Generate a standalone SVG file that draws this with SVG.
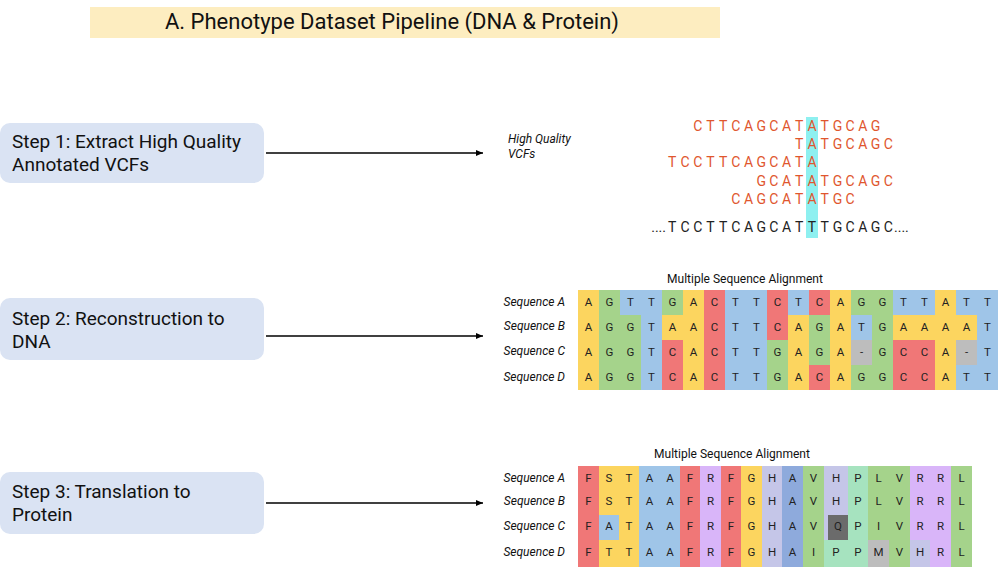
<svg xmlns="http://www.w3.org/2000/svg" width="1000" height="567" viewBox="0 0 1000 567">
<style>
text{font-family:Roboto,"Liberation Sans",sans-serif}
.step{fill:#dae3f3}
.st{font-size:19px;fill:#111}
.lab{font-size:12px;font-style:italic;fill:#111}
.msa{font-size:12px;fill:#111}
.c{font-size:11.5px;fill:#222;text-anchor:middle}
.rd{font-size:14px;fill:#e0562e;text-anchor:middle}
.rf{font-size:14px;fill:#222;text-anchor:middle}
.A{fill:#fcd55f}.G{fill:#a5d38b}.T{fill:#9fc5e8}.C{fill:#f07777}.X{fill:#bdbdbd}
.pR{fill:#f07777}.pY{fill:#fcd55f}.pB{fill:#9fc5e8}.pD{fill:#8eaadc}.pP{fill:#d9b5f9}.pH{fill:#c5c6e8}.pG{fill:#a5d38b}.pL{fill:#a6e3bf}.pM{fill:#bdbdbd}.pQ{fill:#6b6b6b}
</style>
<defs><marker id="ah" markerWidth="8" markerHeight="8" refX="7" refY="4" orient="auto" markerUnits="userSpaceOnUse"><path d="M0,1 L7,4 L0,7 Z" fill="#000"/></marker></defs>
<g id="title"><rect x="90" y="7" width="630" height="31" fill="#fdedc0"/><text x="392" y="29" font-size="22" text-anchor="middle" fill="#111">A. Phenotype Dataset Pipeline (DNA &amp; Protein)</text></g>
<g id="step1"><rect class="step" x="0" y="123" width="264" height="60" rx="10"/><text class="st" x="12" y="148">Step 1: Extract High Quality</text><text class="st" x="12" y="171">Annotated VCFs</text></g>
<g id="step2"><rect class="step" x="0" y="298" width="264" height="62" rx="10"/><text class="st" x="12" y="325">Step 2: Reconstruction to</text><text class="st" x="12" y="348">DNA</text></g>
<g id="step3"><rect class="step" x="0" y="472" width="264" height="62" rx="10"/><text class="st" x="12" y="498">Step 3: Translation to</text><text class="st" x="12" y="521">Protein</text></g>
<g id="connectors" stroke="#000" stroke-width="1.5" marker-end="url(#ah)">
<line x1="266" y1="153" x2="483" y2="153"/><line x1="266" y1="336" x2="483" y2="336"/><line x1="266" y1="503" x2="483" y2="503"/>
</g>
<g id="vcf">
<text class="lab" x="508" y="143">High Quality</text><text class="lab" x="508" y="158">VCFs</text>
<rect x="806" y="117" width="12" height="121" fill="#8ef0f0"/>
<g transform="translate(2,0)">
<text class="rd" y="131" x="695.7 708.4 721.1 733.8 746.5 759.2 771.9 784.6 797.3 810 822.7 835.4 848.1 860.8 873.5">CTTCAGCATATGCAG</text>
<text class="rd" y="149" x="797.3 810 822.7 835.4 848.1 860.8 873.5 886.2">TATGCAGC</text>
<text class="rd" y="167" x="670.3 683 695.7 708.4 721.1 733.8 746.5 759.2 771.9 784.6 797.3 810">TCCTTCAGCATA</text>
<text class="rd" y="186" x="759.2 771.9 784.6 797.3 810 822.7 835.4 848.1 860.8 873.5 886.2">GCATATGCAGC</text>
<text class="rd" y="204" x="733.8 746.5 759.2 771.9 784.6 797.3 810 822.7 835.4 848.1">CAGCATATGC</text>
<text class="rf" y="232" x="670.3 683 695.7 708.4 721.1 733.8 746.5 759.2 771.9 784.6 797.3 810 822.7 835.4 848.1 860.8 873.5 886.2">TCCTTCAGCATTTGCAGC</text>
<text x="664" y="232" font-size="14" fill="#222" text-anchor="end">....</text>
<text x="892" y="232" font-size="14" fill="#222">....</text>
</g>
</g>
<g id="dna">
<text class="msa" x="745" y="283" text-anchor="middle">Multiple Sequence Alignment</text>
<text class="lab" x="565" y="306" text-anchor="end">Sequence A</text>
<text class="lab" x="565" y="330" text-anchor="end">Sequence B</text>
<text class="lab" x="565" y="355" text-anchor="end">Sequence C</text>
<text class="lab" x="565" y="381" text-anchor="end">Sequence D</text>
<g id="dnaA">
<rect class="A" x="578" y="290" width="21" height="25"/><rect class="G" x="599" y="290" width="21" height="25"/><rect class="T" x="620" y="290" width="21" height="25"/><rect class="T" x="641" y="290" width="21" height="25"/><rect class="G" x="662" y="290" width="21" height="25"/><rect class="A" x="683" y="290" width="21" height="25"/><rect class="C" x="704" y="290" width="21" height="25"/><rect class="T" x="725" y="290" width="21" height="25"/><rect class="T" x="746" y="290" width="21" height="25"/><rect class="C" x="767" y="290" width="21" height="25"/><rect class="T" x="788" y="290" width="21" height="25"/><rect class="C" x="809" y="290" width="21" height="25"/><rect class="A" x="830" y="290" width="21" height="25"/><rect class="G" x="851" y="290" width="21" height="25"/><rect class="G" x="872" y="290" width="21" height="25"/><rect class="T" x="893" y="290" width="21" height="25"/><rect class="T" x="914" y="290" width="21" height="25"/><rect class="A" x="935" y="290" width="21" height="25"/><rect class="T" x="956" y="290" width="21" height="25"/><rect class="T" x="977" y="290" width="21" height="25"/>
<text class="c" y="306" x="588.5 609.5 630.5 651.5 672.5 693.5 714.5 735.5 756.5 777.5 798.5 819.5 840.5 861.5 882.5 903.5 924.5 945.5 966.5 987.5">AGTTGACTTCTCAGGTTATT</text>
</g>
<g id="dnaB">
<rect class="A" x="578" y="315" width="21" height="25"/><rect class="G" x="599" y="315" width="21" height="25"/><rect class="G" x="620" y="315" width="21" height="25"/><rect class="T" x="641" y="315" width="21" height="25"/><rect class="A" x="662" y="315" width="21" height="25"/><rect class="A" x="683" y="315" width="21" height="25"/><rect class="C" x="704" y="315" width="21" height="25"/><rect class="T" x="725" y="315" width="21" height="25"/><rect class="T" x="746" y="315" width="21" height="25"/><rect class="C" x="767" y="315" width="21" height="25"/><rect class="A" x="788" y="315" width="21" height="25"/><rect class="G" x="809" y="315" width="21" height="25"/><rect class="A" x="830" y="315" width="21" height="25"/><rect class="T" x="851" y="315" width="21" height="25"/><rect class="G" x="872" y="315" width="21" height="25"/><rect class="A" x="893" y="315" width="21" height="25"/><rect class="A" x="914" y="315" width="21" height="25"/><rect class="A" x="935" y="315" width="21" height="25"/><rect class="A" x="956" y="315" width="21" height="25"/><rect class="T" x="977" y="315" width="21" height="25"/>
<text class="c" y="331" x="588.5 609.5 630.5 651.5 672.5 693.5 714.5 735.5 756.5 777.5 798.5 819.5 840.5 861.5 882.5 903.5 924.5 945.5 966.5 987.5">AGGTAACTTCAGATGAAAAT</text>
</g>
<g id="dnaC">
<rect class="A" x="578" y="340" width="21" height="25"/><rect class="G" x="599" y="340" width="21" height="25"/><rect class="G" x="620" y="340" width="21" height="25"/><rect class="T" x="641" y="340" width="21" height="25"/><rect class="C" x="662" y="340" width="21" height="25"/><rect class="A" x="683" y="340" width="21" height="25"/><rect class="C" x="704" y="340" width="21" height="25"/><rect class="T" x="725" y="340" width="21" height="25"/><rect class="T" x="746" y="340" width="21" height="25"/><rect class="G" x="767" y="340" width="21" height="25"/><rect class="A" x="788" y="340" width="21" height="25"/><rect class="G" x="809" y="340" width="21" height="25"/><rect class="A" x="830" y="340" width="21" height="25"/><rect class="X" x="851" y="340" width="21" height="25"/><rect class="G" x="872" y="340" width="21" height="25"/><rect class="C" x="893" y="340" width="21" height="25"/><rect class="C" x="914" y="340" width="21" height="25"/><rect class="A" x="935" y="340" width="21" height="25"/><rect class="X" x="956" y="340" width="21" height="25"/><rect class="T" x="977" y="340" width="21" height="25"/>
<text class="c" y="356" x="588.5 609.5 630.5 651.5 672.5 693.5 714.5 735.5 756.5 777.5 798.5 819.5 840.5 861.5 882.5 903.5 924.5 945.5 966.5 987.5">AGGTCACTTGAGA-GCCA-T</text>
</g>
<g id="dnaD">
<rect class="A" x="578" y="365" width="21" height="25"/><rect class="G" x="599" y="365" width="21" height="25"/><rect class="G" x="620" y="365" width="21" height="25"/><rect class="T" x="641" y="365" width="21" height="25"/><rect class="C" x="662" y="365" width="21" height="25"/><rect class="A" x="683" y="365" width="21" height="25"/><rect class="C" x="704" y="365" width="21" height="25"/><rect class="T" x="725" y="365" width="21" height="25"/><rect class="T" x="746" y="365" width="21" height="25"/><rect class="G" x="767" y="365" width="21" height="25"/><rect class="A" x="788" y="365" width="21" height="25"/><rect class="C" x="809" y="365" width="21" height="25"/><rect class="A" x="830" y="365" width="21" height="25"/><rect class="G" x="851" y="365" width="21" height="25"/><rect class="G" x="872" y="365" width="21" height="25"/><rect class="C" x="893" y="365" width="21" height="25"/><rect class="C" x="914" y="365" width="21" height="25"/><rect class="A" x="935" y="365" width="21" height="25"/><rect class="T" x="956" y="365" width="21" height="25"/><rect class="T" x="977" y="365" width="21" height="25"/>
<text class="c" y="381" x="588.5 609.5 630.5 651.5 672.5 693.5 714.5 735.5 756.5 777.5 798.5 819.5 840.5 861.5 882.5 903.5 924.5 945.5 966.5 987.5">AGGTCACTTGACAGGCCATT</text>
</g>
</g>
<g id="protein">
<text class="msa" x="732" y="458" text-anchor="middle">Multiple Sequence Alignment</text>
<text class="lab" x="565" y="482" text-anchor="end">Sequence A</text>
<text class="lab" x="565" y="505" text-anchor="end">Sequence B</text>
<text class="lab" x="565" y="530" text-anchor="end">Sequence C</text>
<text class="lab" x="565" y="556" text-anchor="end">Sequence D</text>
<g id="pcols">
<rect class="pR" x="578" y="466" width="21" height="101"/>
<rect class="pY" x="599" y="466" width="40" height="101"/>
<rect class="pB" x="639" y="466" width="41" height="101"/>
<rect class="pR" x="680" y="466" width="20" height="101"/>
<rect class="pP" x="700" y="466" width="21" height="101"/>
<rect class="pR" x="721" y="466" width="20" height="101"/>
<rect class="pY" x="741" y="466" width="21" height="101"/>
<rect class="pH" x="762" y="466" width="20" height="101"/>
<rect class="pD" x="782" y="466" width="21" height="101"/>
<rect class="pG" x="803" y="466" width="21" height="101"/>
<rect class="pH" x="824" y="466" width="24" height="101"/>
<rect class="pL" x="848" y="466" width="20" height="101"/>
<rect class="pG" x="868" y="466" width="42" height="101"/>
<rect class="pP" x="910" y="466" width="41" height="101"/>
<rect class="pG" x="951" y="466" width="21" height="101"/>
<rect class="pB" x="599" y="515" width="20" height="25"/>
<rect class="pQ" x="828" y="515" width="20" height="25"/>
<rect class="pL" x="824" y="540" width="24" height="27"/>
<rect class="pM" x="868" y="540" width="21" height="27"/>
<rect class="pH" x="910" y="540" width="20" height="27"/>
</g>
<text class="c" y="482" x="588.5 609 629 649.5 670 690 710.5 731 751.5 772 792.5 813.5 836 858 878.5 899.5 920 940.5 961.5">FSTAAFRFGHAVHPLVRRL</text>
<text class="c" y="505" x="588.5 609 629 649.5 670 690 710.5 731 751.5 772 792.5 813.5 836 858 878.5 899.5 920 940.5 961.5">FSTAAFRFGHAVHPLVRRL</text>
<text class="c" y="530" x="588.5 609 629 649.5 670 690 710.5 731 751.5 772 792.5 813.5 838 858 878.5 899.5 920 940.5 961.5">FATAAFRFGHAVQPIVRRL</text>
<text class="c" y="556" x="588.5 609 629 649.5 670 690 710.5 731 751.5 772 792.5 813.5 836 858 878.5 899.5 920 940.5 961.5">FTTAAFRFGHAIPPMVHRL</text>
</g>
</svg>
